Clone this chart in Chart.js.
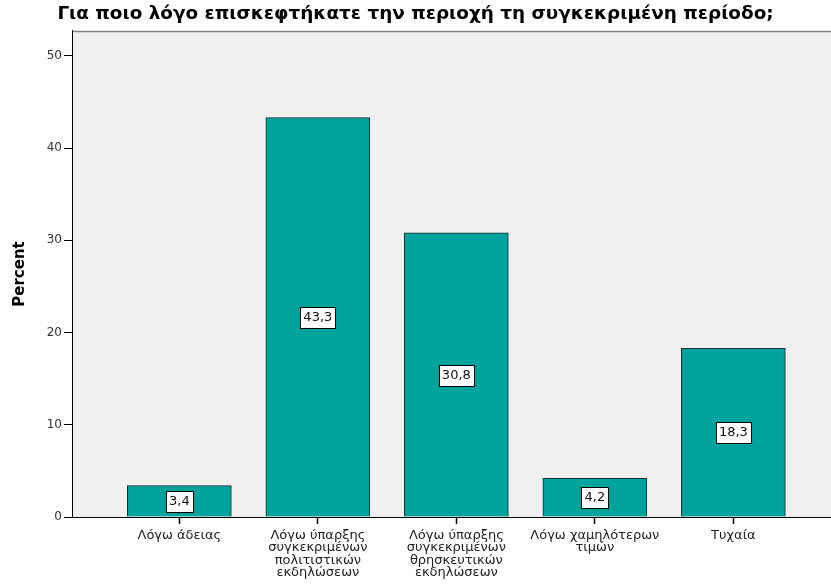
<!DOCTYPE html>
<html lang="el">
<head>
<meta charset="UTF-8">
<title>Για ποιο λόγο επισκεφτήκατε την περιοχή</title>
<style>
  body { margin: 0; background: #fff; }
  #chart { display: block; }
</style>
</head>
<body>
<canvas id="chart" width="831" height="585"></canvas>
<script src="https://cdn.jsdelivr.net/npm/chart.js@4"></script>
<script>
const chartTitle = 'Για ποιο λόγο επισκεφτήκατε την περιοχή τη συγκεκριμένη περίοδο;';
const categories = [
  ['Λόγω άδειας'],
  ['Λόγω ύπαρξης', 'συγκεκριμένων', 'πολιτιστικών', 'εκδηλώσεων'],
  ['Λόγω ύπαρξης', 'συγκεκριμένων', 'θρησκευτικών', 'εκδηλώσεων'],
  ['Λόγω χαμηλότερων', 'τιμών'],
  ['Τυχαία']
];
const percents = [3.4, 43.3, 30.8, 4.2, 18.3];
const yTicks = [0, 10, 20, 30, 40, 50];

const FONT = '"DejaVu Sans", "Liberation Sans", Arial, sans-serif';
Chart.defaults.font.family = FONT;
Chart.defaults.color = '#222';

// grey plot background + top frame line
const plotFrame = {
  id: 'plotFrame',
  beforeDraw(chart) {
    const { ctx, chartArea: a } = chart;
    ctx.save();
    ctx.fillStyle = '#f0f0f0';
    ctx.fillRect(a.left, a.top, a.right - a.left, a.bottom - a.top);
    ctx.strokeStyle = '#808080';
    ctx.lineWidth = 1.5;
    ctx.beginPath();
    ctx.moveTo(a.left, a.top + 0.5);
    ctx.lineTo(a.right, a.top + 0.5);
    ctx.stroke();
    ctx.restore();
  }
};

// white boxed value in the middle of each bar
const valueBoxes = {
  id: 'valueBoxes',
  afterDatasetsDraw(chart) {
    const ctx = chart.ctx;
    const meta = chart.getDatasetMeta(0);
    ctx.save();
    ctx.font = '13px ' + FONT;
    ctx.textAlign = 'center';
    ctx.textBaseline = 'middle';
    meta.data.forEach((bar, i) => {
      const text = percents[i].toFixed(1).replace('.', ',');
      const cy = Math.round((bar.y + bar.base) / 2);
      const w = Math.round(ctx.measureText(text).width + 6);
      const h = 21;
      const x0 = Math.round(bar.x - w / 2) + 0.5;
      const y0 = Math.round(cy - h / 2) + 0.5;
      ctx.fillStyle = '#fff';
      ctx.fillRect(x0, y0, w, h);
      ctx.strokeStyle = '#000';
      ctx.lineWidth = 1;
      ctx.strokeRect(x0, y0, w, h);
      ctx.fillStyle = '#111';
      ctx.fillText(text, bar.x, cy + 1);
    });
    ctx.restore();
  }
};

new Chart(document.getElementById('chart'), {
  type: 'bar',
  data: {
    datasets: [{
      label: 'Percent',
      data: percents.map((v, i) => ({ x: i, y: v })),
      backgroundColor: '#00a29c',
      borderColor: '#1a2e2e',
      borderWidth: 1,
      barThickness: 104
    }]
  },
  options: {
    responsive: false,
    animation: false,
    layout: { padding: 0 },
    plugins: {
      legend: { display: false },
      tooltip: { enabled: false },
      title: {
        display: true,
        text: chartTitle,
        color: '#000',
        font: { size: 18.4, weight: 'bold' },
        padding: { top: 3, bottom: 5.9 }
      }
    },
    scales: {
      x: {
        type: 'linear',
        offset: false,
        min: -0.775,
        max: 4.705,
        grid: {
          offset: false,
          drawOnChartArea: false,
          tickLength: 7,
          tickWidth: 1.5,
          color: '#000',
          tickColor: '#000'
        },
        border: { color: '#000' },
        afterBuildTicks: s => { s.ticks = categories.map((c, i) => ({ value: i })); },
        afterFit: s => { s.height = 68; },
        ticks: {
          autoSkip: false,
          maxRotation: 0,
          padding: 5,
          color: '#222',
          font: { size: 13, lineHeight: '12.5px' },
          callback: v => categories[v]
        }
      },
      y: {
        min: 0,
        max: 52.7,
        grid: { drawOnChartArea: false, tickLength: 8, color: '#000', tickColor: '#000' },
        border: { color: '#000' },
        afterBuildTicks: s => { s.ticks = yTicks.map(v => ({ value: v })); },
        afterFit: s => { s.width = 72; },
        ticks: { padding: 2, color: '#333', font: { size: 12 } },
        title: {
          display: true,
          text: 'Percent',
          color: '#000',
          font: { size: 15, weight: 'bold' },
          padding: { top: 11 }
        }
      }
    }
  },
  plugins: [plotFrame, valueBoxes]
});
</script>
</body>
</html>
